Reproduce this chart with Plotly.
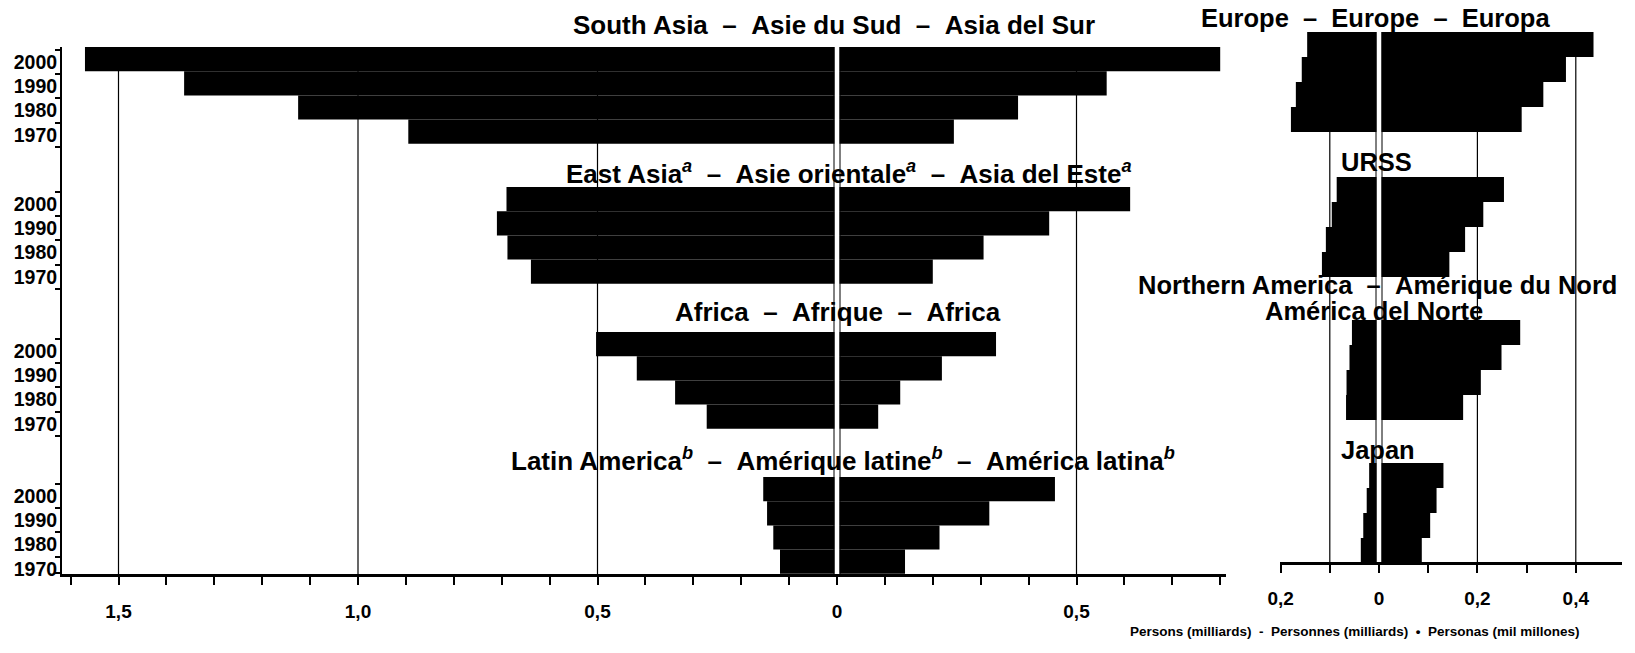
import plotly.graph_objects as go

# population (milliards), rows in order 2000, 1990, 1980, 1970
years = ["2000", "1990", "1980", "1970"]

# left panel
south_asia_left = [1.570, 1.363, 1.125, 0.895]
south_asia_right = [0.800, 0.563, 0.378, 0.244]
east_asia_left = [0.690, 0.710, 0.688, 0.639]
east_asia_right = [0.612, 0.443, 0.306, 0.200]
africa_left = [0.503, 0.418, 0.338, 0.272]
africa_right = [0.332, 0.219, 0.132, 0.086]
latin_left = [0.154, 0.146, 0.133, 0.119]
latin_right = [0.455, 0.318, 0.214, 0.142]

# right panel
europe_left = [0.146, 0.157, 0.169, 0.179]
europe_right = [0.436, 0.380, 0.334, 0.290]
urss_left = [0.086, 0.096, 0.108, 0.116]
urss_right = [0.254, 0.212, 0.175, 0.143]
namerica_left = [0.055, 0.060, 0.066, 0.067]
namerica_right = [0.287, 0.249, 0.207, 0.171]
japan_left = [0.020, 0.025, 0.032, 0.037]
japan_right = [0.131, 0.117, 0.104, 0.087]

left_minor = [round(-1.6 + 0.1 * i, 1) for i in range(25)]
left_ticks = [-1.5, -1.0, -0.5, 0.0, 0.5]
left_text = ["1,5", "1,0", "0,5", "0", "0,5"]
right_minor = [round(-0.2 + 0.1 * i, 1) for i in range(8)]
right_ticks = [-0.2, 0.0, 0.2, 0.4]
right_text = ["0,2", "0", "0,2", "0,4"]
left_grid = [-1.5, -1.0, -0.5, 0.5]
right_grid = [-0.1, 0.2, 0.4]

W, H = 1635, 653
FONT = "Liberation Sans, Arial, sans-serif"

# layout (pixel units on the y axes)
L_TOP, L_AXIS, L_ROW = 47, 574, 24.2
L_BLOCKS = [47, 187, 332, 477]
L_LABEL_SHIFT = [3, 5, 7, 7]
R_TOP, R_AXIS, R_ROW = 32, 562, 25
R_BLOCKS = [32, 177, 320, 463]

fig = go.Figure()


def add_block(top, row, lv, rv, xa, ya):
    ys = [top + (i + 0.5) * row for i in range(len(years))]
    fig.add_trace(go.Bar(x=[-v for v in lv], y=ys, orientation="h", width=row,
                         marker=dict(color="black", line=dict(width=0)),
                         xaxis=xa, yaxis=ya, hoverinfo="skip"))
    fig.add_trace(go.Bar(x=rv, y=ys, orientation="h", width=row,
                         marker=dict(color="black", line=dict(width=0)),
                         xaxis=xa, yaxis=ya, hoverinfo="skip"))


add_block(L_BLOCKS[0], L_ROW, south_asia_left, south_asia_right, "x", "y")
add_block(L_BLOCKS[1], L_ROW, east_asia_left, east_asia_right, "x", "y")
add_block(L_BLOCKS[2], L_ROW, africa_left, africa_right, "x", "y")
add_block(L_BLOCKS[3], L_ROW, latin_left, latin_right, "x", "y")
add_block(R_BLOCKS[0], R_ROW, europe_left, europe_right, "x2", "y2")
add_block(R_BLOCKS[1], R_ROW, urss_left, urss_right, "x2", "y2")
add_block(R_BLOCKS[2], R_ROW, namerica_left, namerica_right, "x2", "y2")
add_block(R_BLOCKS[3], R_ROW, japan_left, japan_right, "x2", "y2")

# year labels and bracket ticks on the left (the scan sits a little lower there)
ytv, ytt, yminor = [], [], []
for top, sh in zip(L_BLOCKS, L_LABEL_SHIFT):
    for i, yr in enumerate(years):
        ytv.append(top + sh + (i + 0.5) * L_ROW)
        ytt.append("<b>%s</b>" % yr)
        yminor.append(top + sh + i * L_ROW)
    yminor.append(min(top + sh + 4 * L_ROW, L_AXIS - 1))

shapes = []
for g in left_grid:
    shapes.append(dict(type="line", xref="x", yref="y", x0=g, x1=g, y0=L_TOP, y1=L_AXIS,
                       line=dict(color="black", width=1.2), layer="below"))
for g in right_grid:
    shapes.append(dict(type="line", xref="x2", yref="y2", x0=g, x1=g, y0=R_TOP, y1=R_AXIS,
                       line=dict(color="black", width=1.2), layer="below"))
# white gap at zero, edged with thin black lines
for xr, yr, t, b in [("x", "y", L_TOP, L_AXIS), ("x2", "y2", R_TOP, R_AXIS)]:
    shapes.append(dict(type="rect", xref=xr, yref=yr, xsizemode="pixel", xanchor=0,
                       x0=-2.5, x1=2.5, y0=t, y1=b, fillcolor="white",
                       line=dict(width=0), layer="above"))
    for px in (-3, 3):
        shapes.append(dict(type="line", xref=xr, yref=yr, xsizemode="pixel", xanchor=0,
                           x0=px, x1=px, y0=t, y1=b,
                           line=dict(color="black", width=1), layer="above"))

nb = "\u00a0"
sep = nb * 2 + "–" + nb * 2
titles = [
    ("South Asia" + sep + "Asie du Sud" + sep + "Asia del Sur", 834, 25, 26),
    ("East Asia<sup><i>a</i></sup>" + sep + "Asie orientale<sup><i>a</i></sup>" + sep
     + "Asia del Este<sup><i>a</i></sup>", 849, 172, 26),
    ("Africa" + sep + "Afrique" + sep + "Africa", 838, 312, 26),
    ("Latin America<sup><i>b</i></sup>" + sep + "Amérique latine<sup><i>b</i></sup>" + sep
     + "América latina<sup><i>b</i></sup>", 843, 459, 26),
    ("Europe" + sep + "Europe" + sep + "Europa", 1375, 18, 25.5),
    ("URSS", 1376, 162, 25.5),
    ("Northern America" + sep + "Amérique du Nord", 1377, 285, 25.5),
    ("América del Norte", 1374, 311, 25.5),
    ("Japan", 1378, 450, 25.5),
]
annotations = []
for txt, x, y, size in titles:
    annotations.append(dict(text="<b>%s</b>" % txt, xref="paper", yref="paper",
                            x=x / W, y=1 - y / H, xanchor="center", yanchor="middle",
                            showarrow=False, font=dict(family=FONT, size=size, color="black")))
annotations.append(dict(text="<b>Persons (milliards)" + nb * 2 + "-" + nb * 2 + "Personnes (milliards)"
                             + nb * 2 + "•" + nb * 2 + "Personas (mil millones)</b>",
                        xref="paper", yref="paper", x=1355 / W, y=1 - 631 / H,
                        xanchor="center", yanchor="middle", showarrow=False,
                        font=dict(family=FONT, size=13.5, color="black")))

Lx0, Lx1, L0, Lunit = 62, 1226, 837, 479
Rx0, Rx1, R0, Runit = 1280, 1622, 1379, 492

axis_common = dict(showline=True, linecolor="black", linewidth=2.5, ticks="outside",
                   ticklen=8, tickwidth=1.5, tickcolor="black", showgrid=False,
                   zeroline=False, tickmode="array", automargin=False,
                   tickfont=dict(family=FONT, size=19, color="black"), fixedrange=True)

fig.update_layout(
    width=W, height=H, margin=dict(l=0, r=0, t=0, b=0, pad=0),
    paper_bgcolor="white", plot_bgcolor="white", showlegend=False, barmode="overlay",
    shapes=shapes, annotations=annotations,
    xaxis=dict(domain=[Lx0 / W, Lx1 / W], range=[(Lx0 - L0) / Lunit, (Lx1 - L0) / Lunit],
               anchor="y", tickvals=left_ticks, ticklabelstandoff=10,
               ticktext=["<b>%s</b>" % t for t in left_text],
               minor=dict(tickmode="array", tickvals=left_minor, ticks="outside", ticklen=8,
                          tickwidth=1.5, tickcolor="black", showgrid=False),
               **axis_common),
    xaxis2=dict(domain=[Rx0 / W, Rx1 / W], range=[(Rx0 - R0) / Runit, (Rx1 - R0) / Runit],
                anchor="y2", tickvals=right_ticks, ticklabelstandoff=9,
                ticktext=["<b>%s</b>" % t for t in right_text],
                minor=dict(tickmode="array", tickvals=right_minor, ticks="outside", ticklen=8,
                           tickwidth=1.5, tickcolor="black", showgrid=False),
                **axis_common),
    yaxis=dict(domain=[1 - L_AXIS / H, 1 - L_TOP / H], range=[L_AXIS, L_TOP], anchor="x",
               showline=True, linecolor="black", linewidth=2, showgrid=False, zeroline=False,
               tickmode="array", tickvals=ytv, ticktext=ytt, ticks="", ticklabelstandoff=-1,
               tickfont=dict(family=FONT, size=19.5, color="black"), automargin=False,
               minor=dict(tickmode="array", tickvals=yminor, ticks="outside", ticklen=5,
                          tickwidth=1.5, tickcolor="black", showgrid=False),
               fixedrange=True),
    yaxis2=dict(domain=[1 - R_AXIS / H, 1 - R_TOP / H], range=[R_AXIS, R_TOP], anchor="x2",
                showline=False, showgrid=False, zeroline=False, showticklabels=False,
                ticks="", fixedrange=True, automargin=False),
)

# drop the browser's default body margin so the figure sits at the page corner
fig.write_html("out.html", config={"displayModeBar": False},
               post_script="document.body.style.margin='0';")
